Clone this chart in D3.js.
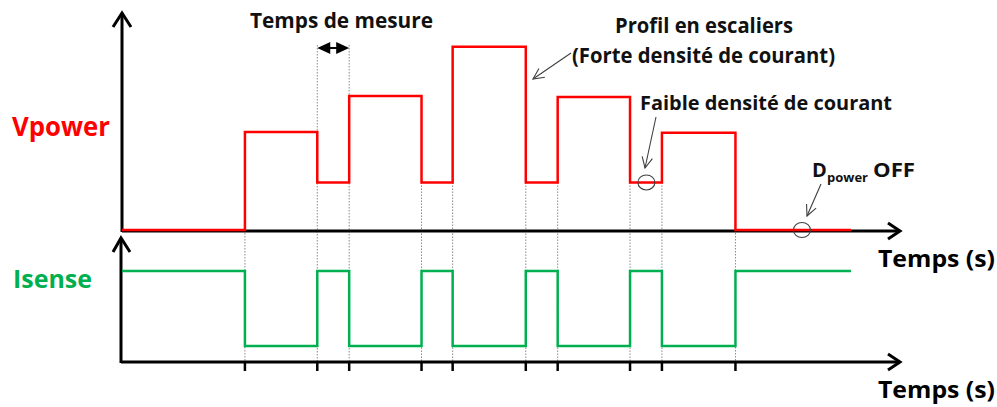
<!DOCTYPE html>
<html>
<head>
<meta charset="utf-8">
<script src="https://cdn.jsdelivr.net/npm/d3@7"></script>
<style>
  html, body { margin: 0; padding: 0; background: #fff; }
  svg { display: block; }
  text { font-family: "Open Sans", "DejaVu Sans", sans-serif; font-weight: 700; }
</style>
</head>
<body>
<svg id="chart" width="997" height="407"></svg>
<script>
// ---------------- DATA ----------------
// Transition instants (arbitrary time units) and end of drawn signals
const times = [0, 15.8, 25.1, 29.2, 38.5, 42.5, 51.9, 56.0, 65.3, 69.4, 78.85];
const tEnd = 93.7;
// Vpower step levels (one per segment)
const vpower = [0, 2.27, 1.1, 3.1, 1.1, 4.24, 1.1, 3.08, 1.1, 2.25, 0];
// Isense step levels (one per segment)
const isense = [3.67, 0.645, 3.67, 0.645, 3.67, 0.645, 3.67, 0.645, 3.67, 0.645, 3.67];
// Tick instants on the time axis
const tickTimes = times.slice(1);
// Measurement-time marker (between these instants)
const measureTimes = [25.1, 29.2];
// Labels
const yLabelTop = "Vpower";
const yLabelBottom = "Isense";
const xLabel = "Temps (s)";
const annMeasure = "Temps de mesure";
const annProfil1 = "Profil en escaliers";
const annProfil2 = "(Forte densité de courant)";
const annFaible = "Faible densité de courant";

// ---------------- SCALES ----------------
const svg = d3.select("#chart");
const x = d3.scaleLinear().domain([0, 100]).range([122, 900]);
const yV = d3.scaleLinear().domain([0, 5]).range([230, 14]);
const yI = d3.scaleLinear().domain([0, 5]).range([362, 238]);

const red = "#ff0000", green = "#00b050", grey = "#404040";

// ---------------- DOTTED GUIDES ----------------
const guides = tickTimes.map((t, i) => {
  const k = i + 1;
  const low = Math.min(vpower[k - 1], vpower[k]);
  let top = yV(low);
  if (measureTimes.includes(t)) top = 45;
  return { t, top };
});
svg.append("g").selectAll("line").data(guides).join("line")
  .attr("x1", d => x(d.t)).attr("x2", d => x(d.t))
  .attr("y1", d => d.top).attr("y2", yI(0))
  .attr("stroke", "#8a8a8a").attr("stroke-width", 1)
  .attr("stroke-dasharray", "1.5,1.5");

// ---------------- AXES ----------------
const axG = svg.append("g").attr("stroke", "#000").attr("stroke-width", 3)
  .attr("fill", "none").attr("stroke-linecap", "butt");
// top panel
axG.append("line").attr("x1", x(0)).attr("x2", x(100)).attr("y1", 231).attr("y2", 231);
axG.append("line").attr("x1", x(0)).attr("x2", x(0)).attr("y1", 232).attr("y2", yV(5) - 1);
axG.append("path").attr("d", `M${x(0) - 9},${yV(5) + 13} L${x(0)},${yV(5) - 1} L${x(0) + 9},${yV(5) + 13}`);
axG.append("path").attr("d", `M${x(100) - 12},223 L${x(100)},231 L${x(100) - 12},239`);
// bottom panel
axG.append("line").attr("x1", x(0) - 1).attr("x2", x(100)).attr("y1", yI(0)).attr("y2", yI(0));
axG.append("line").attr("x1", x(0) - 1).attr("x2", x(0) - 1).attr("y1", yI(0) + 1).attr("y2", yI(5));
axG.append("path").attr("d", `M${x(0) - 9},${yI(5) + 14} L${x(0) - 1},${yI(5)} L${x(0) + 8},${yI(5) + 14}`);
axG.append("path").attr("d", `M${x(100) - 12},${yI(0) - 8} L${x(100)},${yI(0)} L${x(100) - 12},${yI(0) + 8}`);
// ticks on bottom axis
axG.selectAll("line.tick").data(tickTimes).join("line").attr("class", "tick")
  .attr("x1", d => x(d)).attr("x2", d => x(d))
  .attr("y1", yI(0)).attr("y2", yI(0) + 9).attr("stroke-width", 2.5);

// ---------------- SIGNALS ----------------
const stepLine = d3.line().x(d => x(d[0])).y(d => d[1]).curve(d3.curveStepAfter);
const vPts = times.map((t, i) => [t, yV(vpower[i])]).concat([[tEnd, yV(vpower[vpower.length - 1])]]);
const iPts = times.map((t, i) => [t, yI(isense[i])]).concat([[tEnd, yI(isense[isense.length - 1])]]);
svg.append("path").attr("d", stepLine(vPts)).attr("fill", "none")
  .attr("stroke", red).attr("stroke-width", 2.5);
svg.append("path").attr("d", stepLine(iPts)).attr("fill", "none")
  .attr("stroke", green).attr("stroke-width", 2.5);

// ---------------- MEASUREMENT MARKER ----------------
const mY = 48;
const mx0 = x(measureTimes[0]), mx1 = x(measureTimes[1]);
svg.append("line").attr("x1", mx0 + 6).attr("x2", mx1 - 6).attr("y1", mY).attr("y2", mY)
  .attr("stroke", "#000").attr("stroke-width", 2);
svg.append("path").attr("d", `M${mx0},${mY} L${mx0 + 13},${mY - 6} L${mx0 + 13},${mY + 6} Z`).attr("fill", "#000");
svg.append("path").attr("d", `M${mx1},${mY} L${mx1 - 13},${mY - 6} L${mx1 - 13},${mY + 6} Z`).attr("fill", "#000");

// ---------------- ANNOTATION ARROWS & CIRCLES ----------------
function arrow(x1, y1, x2, y2) {
  const a = Math.atan2(y2 - y1, x2 - x1), L = 12, w = 0.45;
  const g = svg.append("g").attr("stroke", grey).attr("stroke-width", 1.1).attr("fill", "none");
  g.append("line").attr("x1", x1).attr("y1", y1).attr("x2", x2).attr("y2", y2);
  g.append("path").attr("d",
    `M${x2 - L * Math.cos(a - w)},${y2 - L * Math.sin(a - w)} L${x2},${y2} L${x2 - L * Math.cos(a + w)},${y2 - L * Math.sin(a + w)}`);
}
arrow(571, 53, 533, 79);
arrow(656, 117, 645, 168);
arrow(821, 184, 807, 216);

const circles = [
  { t: (times[8] + times[9]) / 2 + 0.05, v: vpower[8] },
  { t: 87.4, v: 0 }
];
svg.append("g").selectAll("ellipse").data(circles).join("ellipse")
  .attr("cx", d => x(d.t)).attr("cy", d => yV(d.v))
  .attr("rx", 8.5).attr("ry", 7.5)
  .attr("fill", "none").attr("stroke", grey).attr("stroke-width", 1.1);

// ---------------- TEXT ----------------
function label(txt, xx, yy, size, width, color) {
  return svg.append("text").attr("x", xx).attr("y", yy)
    .attr("font-size", size).attr("fill", color || "#111")
    .attr("textLength", width).attr("lengthAdjust", "spacingAndGlyphs")
    .text(txt);
}
label(yLabelTop, 12, 136, 27, 98, red);
label(yLabelBottom, 13, 288, 25, 79, green);
label(xLabel, 878, 267, 24, 117, "#000");
label(xLabel, 878, 398, 24, 117, "#000");
label(annMeasure, 250, 28, 20.5, 183);
label(annProfil1, 615, 33, 20.5, 178);
label(annProfil2, 572, 63, 20.5, 263);
label(annFaible, 640, 110, 20, 252);

const dp = svg.append("text").attr("fill", "#111");
dp.append("tspan").attr("x", 812).attr("y", 177).attr("font-size", 20).text("D");
dp.append("tspan").attr("x", 827).attr("y", 182).attr("font-size", 13)
  .attr("textLength", 41).attr("lengthAdjust", "spacingAndGlyphs").text("power");
dp.append("tspan").attr("x", 873).attr("y", 177).attr("font-size", 20)
  .attr("textLength", 42).attr("lengthAdjust", "spacingAndGlyphs").text(" OFF".trim());
</script>
</body>
</html>
